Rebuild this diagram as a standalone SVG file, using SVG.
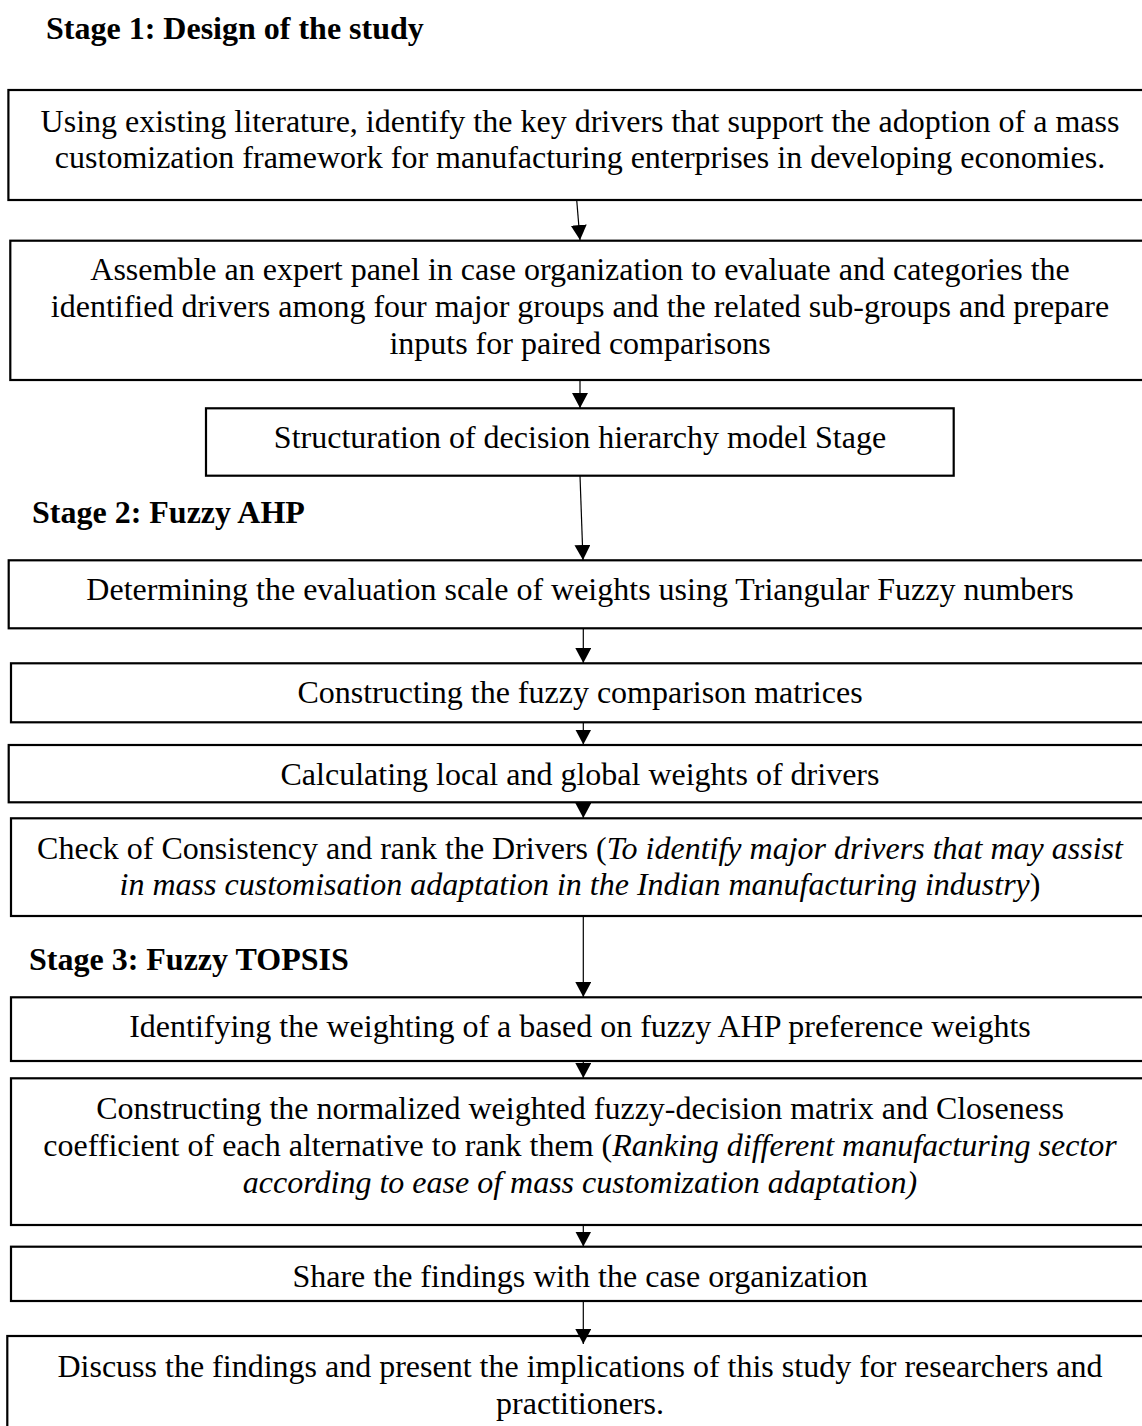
<svg xmlns="http://www.w3.org/2000/svg" width="1142" height="1426" viewBox="0 0 1142 1426">
  <style>
    .box { fill: #ffffff; stroke: #000000; stroke-width: 2.2; }
    .t { font-family: "Liberation Serif", "Times New Roman", serif; font-size: 32px; fill: #000000; text-anchor: middle; }
    .h { font-family: "Liberation Serif", "Times New Roman", serif; font-size: 32px; font-weight: bold; fill: #000000; }
    .i { font-style: italic; }
    .c { fill: none; stroke: #000000; stroke-width: 1.2; marker-end: url(#head); }
  </style>
  <defs>
    <marker id="head" viewBox="0 0 15 16" refX="15" refY="8" markerWidth="15" markerHeight="16" markerUnits="userSpaceOnUse" orient="auto">
      <path d="M0,0 L15,8 L0,16 Z" fill="#000000"/>
    </marker>
  </defs>
  <rect width="1142" height="1426" fill="#ffffff"/>

  <!-- stage headings -->
  <text class="h" x="46" y="39">Stage 1: Design of the study</text>
  <text class="h" x="32" y="523">Stage 2: Fuzzy AHP</text>
  <text class="h" x="29" y="970">Stage 3: Fuzzy TOPSIS</text>

  <!-- Stage 1 steps -->
  <g id="step-literature">
    <rect class="box" x="8.4" y="90" width="1160" height="110"/>
    <text class="t" x="580" y="131.5">Using existing literature, identify the key drivers that support the adoption of a mass</text>
    <text class="t" x="580" y="167.5">customization framework for manufacturing enterprises in developing economies.</text>
  </g>
  <g id="step-expert-panel">
    <rect class="box" x="10.3" y="240.7" width="1160" height="139.3"/>
    <text class="t" x="580" y="280">Assemble an expert panel in case organization to evaluate and categories the</text>
    <text class="t" x="580" y="317">identified drivers among four major groups and the related sub-groups and prepare</text>
    <text class="t" x="580" y="354">inputs for paired comparisons</text>
  </g>
  <g id="step-hierarchy">
    <rect class="box" x="206" y="408.3" width="747.7" height="67.4"/>
    <text class="t" x="580" y="448">Structuration of decision hierarchy model Stage</text>
  </g>

  <!-- Stage 2 steps -->
  <g id="step-scale">
    <rect class="box" x="8.7" y="560.3" width="1160" height="68"/>
    <text class="t" x="580" y="600">Determining the evaluation scale of weights using Triangular Fuzzy numbers</text>
  </g>
  <g id="step-matrices">
    <rect class="box" x="11" y="663.3" width="1160" height="59"/>
    <text class="t" x="580" y="703">Constructing the fuzzy comparison matrices</text>
  </g>
  <g id="step-weights">
    <rect class="box" x="8.7" y="745" width="1160" height="57.3"/>
    <text class="t" x="580" y="785">Calculating local and global weights of drivers</text>
  </g>
  <g id="step-consistency">
    <rect class="box" x="11" y="818.3" width="1160" height="97.7"/>
    <text class="t" x="580" y="859">Check of Consistency and rank the Drivers (<tspan class="i">To identify major drivers that may assist</tspan></text>
    <text class="t" x="580" y="895"><tspan class="i">in mass customisation adaptation in the Indian manufacturing industry</tspan>)</text>
  </g>

  <!-- Stage 3 steps -->
  <g id="step-weighting">
    <rect class="box" x="11" y="997.3" width="1160" height="63.7"/>
    <text class="t" x="580" y="1037">Identifying the weighting of a based on fuzzy AHP preference weights</text>
  </g>
  <g id="step-closeness">
    <rect class="box" x="11" y="1078.3" width="1160" height="146.7"/>
    <text class="t" x="580" y="1119">Constructing the normalized weighted fuzzy-decision matrix and Closeness</text>
    <text class="t" x="580" y="1156">coefficient of each alternative to rank them (<tspan class="i">Ranking different manufacturing sector</tspan></text>
    <text class="t i" x="580" y="1193">according to ease of mass customization adaptation)</text>
  </g>
  <g id="step-share">
    <rect class="box" x="11" y="1246.7" width="1160" height="54.3"/>
    <text class="t" x="580" y="1287">Share the findings with the case organization</text>
  </g>
  <g id="step-discuss">
    <rect class="box" x="7.3" y="1336" width="1160" height="120"/>
    <text class="t" x="580" y="1377">Discuss the findings and present the implications of this study for researchers and</text>
    <text class="t" x="580" y="1414">practitioners.</text>
  </g>

  <!-- connectors, drawn over the box outlines -->
  <g id="connectors">
    <line class="c" x1="576.7" y1="200" x2="580" y2="240"/>
    <line class="c" x1="580" y1="380" x2="580" y2="408"/>
    <line class="c" x1="580" y1="475.7" x2="583" y2="560"/>
    <line class="c" x1="583.3" y1="628.3" x2="583.3" y2="663"/>
    <line class="c" x1="583.3" y1="722.3" x2="583.3" y2="744.5"/>
    <line class="c" x1="583.3" y1="802.3" x2="583.3" y2="818"/>
    <line class="c" x1="583.3" y1="916" x2="583.3" y2="997"/>
    <line class="c" x1="583.3" y1="1061" x2="583.3" y2="1078"/>
    <line class="c" x1="583.3" y1="1225" x2="583.3" y2="1246.5"/>
    <line class="c" x1="583.3" y1="1301" x2="583.3" y2="1344"/>
  </g>
</svg>
